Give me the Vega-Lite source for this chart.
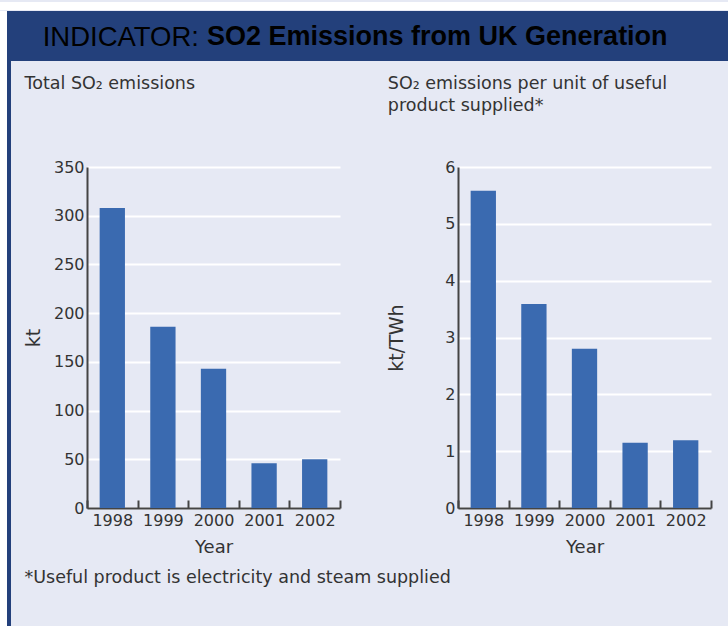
{
  "$schema": "https://vega.github.io/schema/vega-lite/v6.json",
  "background": "#e6e9f4",
  "padding": 0,
  "spacing": 0,
  "config": {
    "view": {"stroke": null},
    "font": "DejaVu Sans",
    "concat": {"spacing": 0}
  },
  "vconcat": [
    {"width": 728, "height": 8, "view": {"fill": "#ffffff", "stroke": null}, "data": {"values": [{}]}, "mark": {"type": "text", "text": ""}},
    {
      "spacing": 0,
      "hconcat": [
        {"width": 7, "height": 618, "view": {"fill": "#ffffff", "stroke": null}, "data": {"values": [{}]}, "mark": {"type": "text", "text": ""}},
        {"width": 4, "height": 618, "view": {"fill": "#23407b", "stroke": null}, "data": {"values": [{}]}, "mark": {"type": "text", "text": ""}},
        {
          "spacing": 13,
          "vconcat": [
            {
              "spacing": 0,
              "hconcat": [
                {"width": 188, "height": 50, "view": {"fill": "#23407b", "stroke": null},
                 "title": {"text": "INDICATOR:", "anchor": "end", "frame": "group", "orient": "top", "offset": -40, "font": "Liberation Sans", "fontSize": 27.5, "fontWeight": "normal", "color": "#000000", "baseline": "top"},
                 "data": {"values": [{}]}, "mark": {"type": "text", "text": ""}},
                {"width": 529, "height": 50, "view": {"fill": "#23407b", "stroke": null},
                 "title": {"text": "SO2 Emissions from UK Generation", "anchor": "start", "frame": "group", "orient": "top", "offset": -40, "dx": 8, "font": "Liberation Sans", "fontSize": 27, "fontWeight": "bold", "color": "#000000", "baseline": "top"},
                 "data": {"values": [{}]}, "mark": {"type": "text", "text": ""}}
              ]
            },
            {
              "spacing": 12,
              "hconcat": [
                {"width": 1, "height": 1, "view": {"fill": "#e6e9f4", "stroke": null}, "data": {"values": [{}]}, "mark": {"type": "text", "text": ""}},
                {
                  "spacing": 46,
                  "title": {"text": "*Useful product is electricity and steam supplied", "orient": "bottom", "anchor": "start", "frame": "bounds", "offset": 13, "font": "DejaVu Sans", "fontSize": 17.5, "fontWeight": "normal", "color": "#333333"},
                  "hconcat": [
                    {
                      "width": 253, "height": 341,
                      "title": {"text": ["Total SO₂ emissions", " "], "anchor": "start", "frame": "bounds", "offset": 45, "font": "DejaVu Sans", "fontSize": 17.5, "fontWeight": "normal", "color": "#333333", "lineHeight": 22},
                      "data": {"values": [
                        {"Year": "1998", "kt": 308},
                        {"Year": "1999", "kt": 186},
                        {"Year": "2000", "kt": 143},
                        {"Year": "2001", "kt": 46},
                        {"Year": "2002", "kt": 50}
                      ]},
                      "mark": {"type": "bar", "color": "#3a6ab0", "width": {"band": 0.5}},
                      "encoding": {
                        "x": {"field": "Year", "type": "nominal", "scale": {"paddingInner": 0, "paddingOuter": 0},
                              "axis": {"labelAngle": 0, "title": "Year", "tickBand": "extent", "tickSize": -8, "tickColor": "#444444", "tickWidth": 2, "domainColor": "#444444", "domainWidth": 2, "labelFontSize": 16, "labelColor": "#333333", "labelPadding": 12, "titleFontSize": 18, "titleFontWeight": "normal", "titleColor": "#333333", "titlePadding": 10}},
                        "y": {"field": "kt", "type": "quantitative", "scale": {"domain": [0, 350]},
                              "axis": {"values": [0, 50, 100, 150, 200, 250, 300, 350], "title": "kt", "ticks": false, "domainColor": "#444444", "domainWidth": 2, "gridColor": "#ffffff", "gridWidth": 2, "labelFontSize": 16, "labelColor": "#333333", "labelPadding": 3, "titleFontSize": 19, "titleFontWeight": "normal", "titleColor": "#333333", "titlePadding": 10}}
                      }
                    },
                    {
                      "width": 253, "height": 341,
                      "title": {"text": ["SO₂ emissions per unit of useful", "product supplied*"], "anchor": "start", "frame": "bounds", "offset": 45, "font": "DejaVu Sans", "fontSize": 17.5, "fontWeight": "normal", "color": "#333333", "lineHeight": 22},
                      "data": {"values": [
                        {"Year": "1998", "ktTWh": 5.58},
                        {"Year": "1999", "ktTWh": 3.59},
                        {"Year": "2000", "ktTWh": 2.8},
                        {"Year": "2001", "ktTWh": 1.15},
                        {"Year": "2002", "ktTWh": 1.19}
                      ]},
                      "mark": {"type": "bar", "color": "#3a6ab0", "width": {"band": 0.5}},
                      "encoding": {
                        "x": {"field": "Year", "type": "nominal", "scale": {"paddingInner": 0, "paddingOuter": 0},
                              "axis": {"labelAngle": 0, "title": "Year", "tickBand": "extent", "tickSize": -8, "tickColor": "#444444", "tickWidth": 2, "domainColor": "#444444", "domainWidth": 2, "labelFontSize": 16, "labelColor": "#333333", "labelPadding": 12, "titleFontSize": 18, "titleFontWeight": "normal", "titleColor": "#333333", "titlePadding": 10}},
                        "y": {"field": "ktTWh", "type": "quantitative", "scale": {"domain": [0, 6]},
                              "axis": {"values": [0, 1, 2, 3, 4, 5, 6], "title": "kt/TWh", "ticks": false, "domainColor": "#444444", "domainWidth": 2, "gridColor": "#ffffff", "gridWidth": 2, "labelFontSize": 16, "labelColor": "#333333", "labelPadding": 3, "titleFontSize": 19, "titleFontWeight": "normal", "titleColor": "#333333", "titlePadding": 38}}
                      }
                    }
                  ]
                }
              ]
            }
          ]
        }
      ]
    }
  ]
}
